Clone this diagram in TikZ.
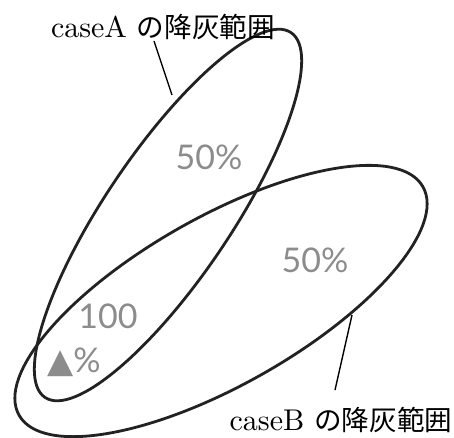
\documentclass[tikz,border=0pt]{standalone}
\usepackage{fontspec}
\setmainfont{lmroman10-regular}[Extension=.otf]
\newfontfamily\jpfont{Noto Sans CJK JP}[Scale=0.92]
\newfontfamily\pctfont{Lato}
\newfontfamily\trifont{DejaVu Sans}
\usetikzlibrary{calc}
\definecolor{pctgray}{HTML}{8C8C8C}
\definecolor{rimgray}{HTML}{222222}

\begin{document}
\begin{tikzpicture}[x=1pt, y=-1pt]

    % Define styles
    \tikzset{
        rim/.style={rimgray, line width=2.8pt},
        leader/.style={black, line width=1.4pt},
        areatext/.style={font=\fontsize{30}{32}\selectfont, inner sep=1pt},
        pcttext/.style={pctgray, font=\pctfont\fontsize{34}{36}\selectfont, inner sep=0pt}
    }

    \useasboundingbox (0,0) rectangle (454,437);

    % 1. Define Coordinates
    \coordinate (CenA) at (168,215);
    \coordinate (CenB) at (221,301);
    \coordinate (ATouch) at (172,95);    % leader end on area A
    \coordinate (BTouch) at (352,315);   % leader end on area B

    % 2. Ash-fall areas
    \draw[rim] (CenA) ellipse [x radius=220, y radius=63, rotate=56];
    \draw[rim] (CenB) ellipse [x radius=232, y radius=84, rotate=29.5];

    % 3. Labels with leaders
    \node[areatext] (LabelA) at (163,27) {caseA {\jpfont の降灰範囲}};
    \node[areatext] (LabelB) at (341,420) {caseB {\jpfont の降灰範囲}};
    \draw[leader] ($(LabelA.south)+(-9,0)$) -- (ATouch);
    \draw[leader] (BTouch) -- ($(LabelB.north)+(-6,-16)$);

    % 4. Percentages
    \node[pcttext] (PctA) at (209,157) {50\%};
    \node[pcttext] (PctB) at (315,260) {50\%};
    \node[pcttext] (PctAB) at (108,316) {100};
    \node[pcttext] (PctTri) at (74,362) {{\trifont ▲}\%};

\end{tikzpicture}
\end{document}
